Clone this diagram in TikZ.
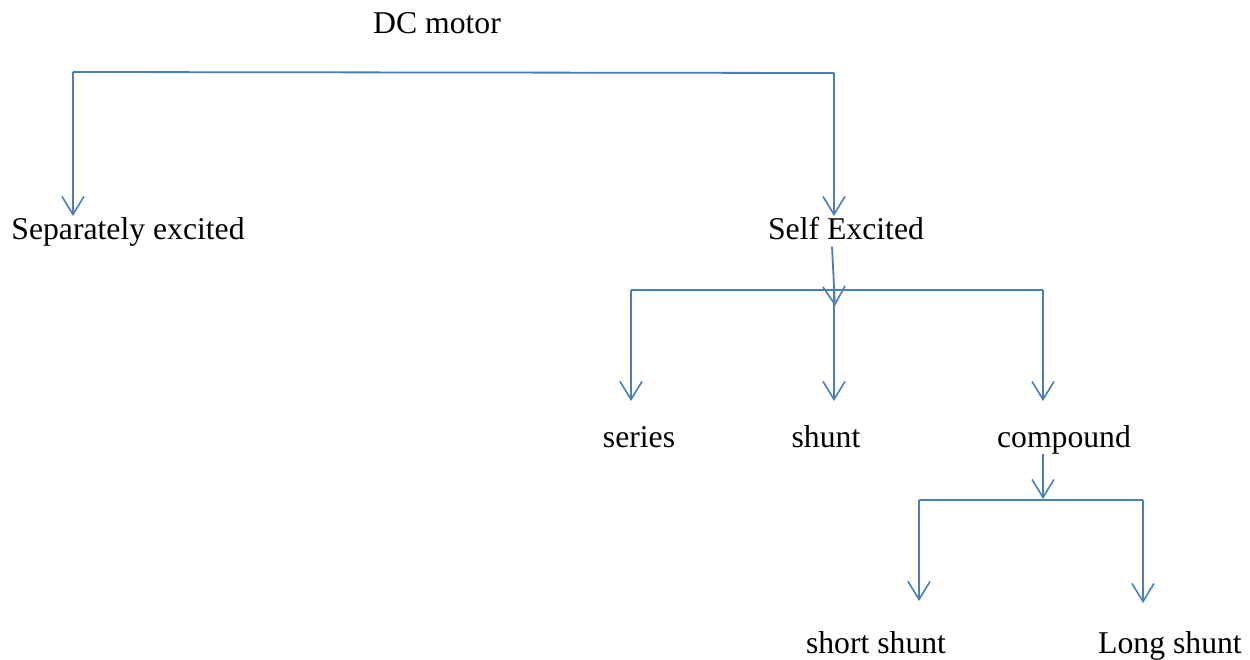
\documentclass[tikz,border=0pt]{standalone}
\usepackage{fontspec}
\setmainfont{Liberation Serif}
\usetikzlibrary{arrows.meta}
\definecolor{lineblue}{RGB}{74,126,187}
\tikzset{
  label/.style={inner sep=0pt, anchor=base, text height=0.7em, text depth=0.25em,
    font=\fontsize{31.7}{38}\selectfont},
  link/.style={draw=lineblue, line width=1.8pt},
  down/.style={link, -{Straight Barb[length=18pt, width=22pt, line width=1.6pt]}}
}
\begin{document}
\begin{tikzpicture}[x=1pt,y=-1pt]
\useasboundingbox (0,0) rectangle (1250,660);

\node[label] (dc) at (437,34) {DC motor};
\node[label] (sep) at (128,240) {Separately excited};
\node[label] (self) at (846,240) {Self Excited};
\node[label] (series) at (639,447) {series};
\node[label] (shunt) at (826,447) {shunt};
\node[label] (compound) at (1064,447) {compound};
\node[label] (short) at (876,653) {short shunt};
\node[label] (long) at (1170,653) {Long shunt};

\coordinate (topL) at (73,72);
\coordinate (topR) at (834,73);
\coordinate (midL) at (631,290);
\coordinate (midC) at (834,290);
\coordinate (midR) at (1043,290);
\coordinate (botL) at (919,500);
\coordinate (botR) at (1143,500);

\draw[link] (topL) -- (topR);
\draw[down] (topL) -- (73,216);
\draw[down] (topR) -- (834,216);

\draw[down] ([xshift=-14pt,yshift=-4pt]self.south) -- (835,306);
\draw[link] (midL) -- (midR);
\draw[down] (midL) -- (631,401);
\draw[down] (midC) -- (834,401);
\draw[down] (midR) -- (1043,401);

\draw[down] ([xshift=-21pt,yshift=-4pt]compound.south) -- (1043,499);
\draw[link] (botL) -- (botR);
\draw[down] (botL) -- (919,601);
\draw[down] (botR) -- (1143,603);
\end{tikzpicture}
\end{document}
